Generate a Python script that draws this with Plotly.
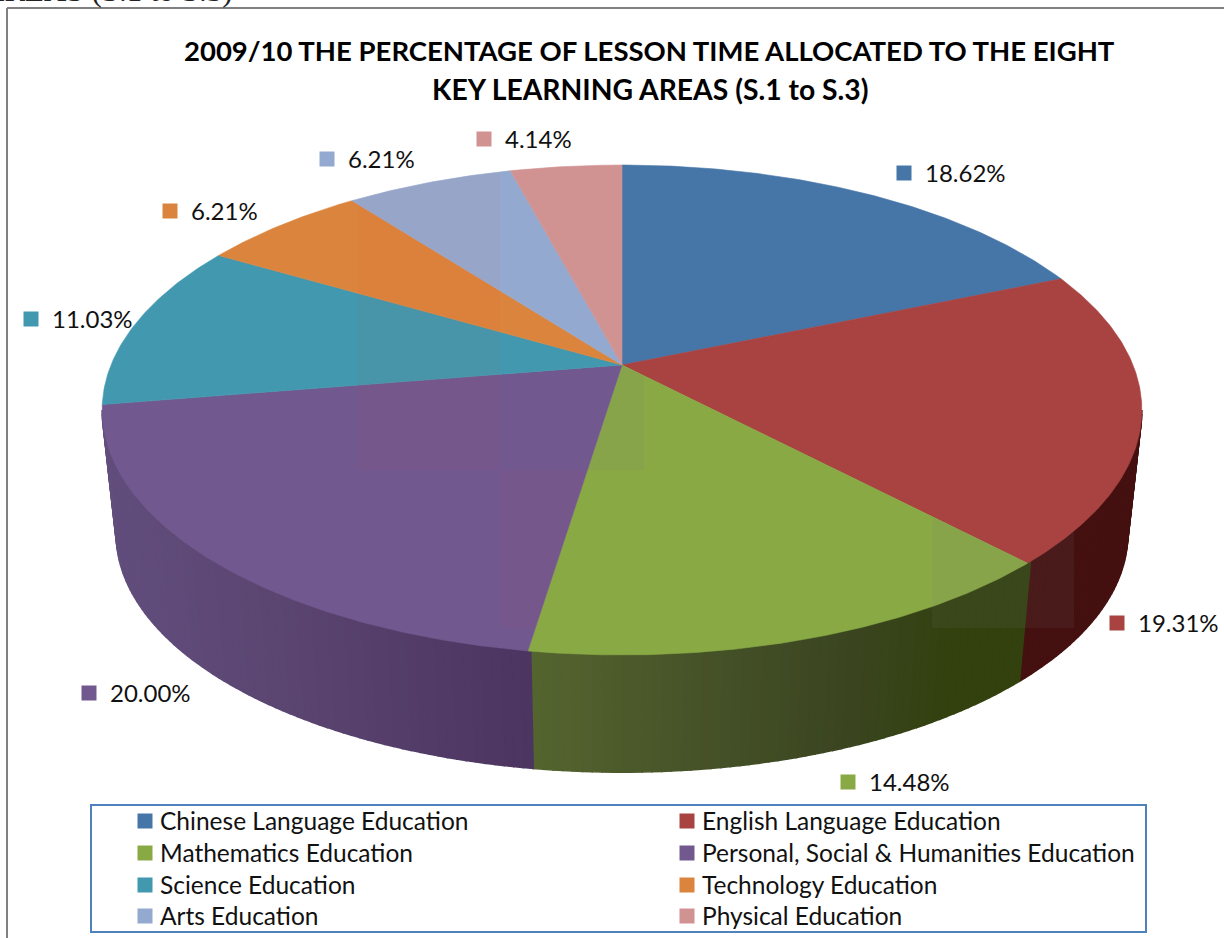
import math
import plotly.graph_objects as go

# ---------- data ----------
categories = ["Chinese Language Education", "English Language Education", "Mathematics Education",
              "Personal, Social & Humanities Education", "Science Education", "Technology Education",
              "Arts Education", "Physical Education"]
values = [18.62, 19.31, 14.48, 20.00, 11.03, 6.21, 6.21, 4.14]
title_lines = ["2009/10 THE PERCENTAGE OF LESSON TIME ALLOCATED TO THE EIGHT",
               "KEY LEARNING AREAS (S.1 to S.3)"]
colors = ["#4675A8", "#A84342", "#88A944", "#71588F", "#4198AF", "#DB843D", "#93A9CF", "#D19392"]
# wall shade at left/right of the visible wall (x in px, colour)
wall_stops = {
    1: [(1018, (69, 16, 16)), (1140, (69, 16, 16))],
    2: [(529, (85, 101, 47)), (700, (70, 82, 40)), (850, (58, 69, 32)), (940, (51, 65, 15)), (1018, (51, 65, 15))],
    3: [(110, (98, 78, 125)), (300, (90, 69, 112)), (529, (76, 53, 96))],
}
label_pos = [(904, 173), (1117, 623), (848, 782), (89, 693), (31, 319), (170, 211), (327, 159), (484, 139)]
legend_pos = [(145, 821), (687, 821), (145, 853), (687, 853), (145, 885), (687, 885), (145, 916), (687, 916)]
FONT = "Lato"

# ---------- projection of the pie disc ----------
CX, CY, A, B, K = 622, 365, 511, 236.7, 0.1837
SCALE, DROP = 0.973, 490


def proj(theta, lower=False):
    X, Y = math.sin(theta), math.cos(theta)
    w = 1 + K * Y
    sx, sy = CX + A * X / w, CY - B * Y / w
    if lower:
        return CX + SCALE * (sx - CX), DROP + SCALE * (sy - CY)
    return sx, sy


def arc(t0, t1, lower=False, step=math.radians(0.5)):
    n = max(2, int(abs(t1 - t0) / step) + 1)
    return [proj(t0 + (t1 - t0) * i / (n - 1), lower) for i in range(n)]


def clip(poly, x0, y0, x1, y1):
    edges = [(lambda p: p[0] >= x0, lambda a, b: (x0, a[1] + (b[1] - a[1]) * (x0 - a[0]) / (b[0] - a[0]))),
             (lambda p: p[0] <= x1, lambda a, b: (x1, a[1] + (b[1] - a[1]) * (x1 - a[0]) / (b[0] - a[0]))),
             (lambda p: p[1] >= y0, lambda a, b: (a[0] + (b[0] - a[0]) * (y0 - a[1]) / (b[1] - a[1]), y0)),
             (lambda p: p[1] <= y1, lambda a, b: (a[0] + (b[0] - a[0]) * (y1 - a[1]) / (b[1] - a[1]), y1))]
    for inside, cross in edges:
        out = []
        for i, p in enumerate(poly):
            q = poly[i - 1]
            if inside(p):
                if not inside(q):
                    out.append(cross(q, p))
                out.append(p)
            elif inside(q):
                out.append(cross(q, p))
        poly = out
        if not poly:
            break
    return poly


def shade(stops, x):
    if x <= stops[0][0]:
        return stops[0][1]
    for (x0, c0), (x1, c1) in zip(stops, stops[1:]):
        if x <= x1:
            f = (x - x0) / (x1 - x0)
            return tuple(c0[i] + (c1[i] - c0[i]) * f for i in range(3))
    return stops[-1][1]


def rgb(c):
    return "rgb(%d,%d,%d)" % tuple(round(v) for v in c)


fig = go.Figure()


def poly_trace(pts, fill, line=None, width=0.6):
    xs = [p[0] for p in pts] + [pts[0][0]]
    ys = [p[1] for p in pts] + [pts[0][1]]
    fig.add_trace(go.Scatter(x=xs, y=ys, mode="lines", fill="toself", fillcolor=fill,
                             line=dict(color=line or fill, width=width if line else 0),
                             hoverinfo="skip", showlegend=False))


# slice boundaries, clockwise from 12 o'clock
total = sum(values)
edges = [0.0]
for v in values:
    edges.append(edges[-1] + 2 * math.pi * v / total)

# side wall, one narrow strip at a time
t_start = math.acos(-K)
t_end = 2 * math.pi - t_start
n_strips = 170
for i in range(n_strips):
    a = t_start + (t_end - t_start) * i / n_strips
    b = t_start + (t_end - t_start) * (i + 1) / n_strips
    mid = (a + b) / 2
    idx = next(j for j in range(len(values)) if edges[j] <= mid < edges[j + 1])
    stops = wall_stops.get(idx, wall_stops[3])
    pts = [proj(a), proj(b), proj(b, True), proj(a, True)]
    col = rgb(shade(stops, proj(mid, True)[0]))
    poly_trace(pts, col, col, width=1.6)

# top faces
slices = []
for i, c in enumerate(colors):
    pts = [(CX, CY)] + arc(edges[i], edges[i + 1])
    slices.append(pts)
    poly_trace(pts, c, c)

# faint tonal blocks over the picture
WARM, GREY = "rgba(255,80,60,0.04)", "rgba(128,128,128,0.10)"
for i in range(len(slices)):
    tile = clip(slices[i], 358, 100, 500, 470)
    if tile:
        poly_trace(tile, WARM)
tile = clip(slices[3], 500, 470, 644, 628)
if tile:
    poly_trace(tile, WARM)
tile = clip(slices[2], 500, 100, 644, 470)
if tile:
    poly_trace(tile, GREY)
tile = clip(slices[2], 932, 470, 1074, 628)
if tile:
    poly_trace(tile, GREY)
wall_band = arc(t_start, t_end, True) + arc(t_end, t_start)
tile = clip(wall_band, 932, 470, 1074, 628)
if tile:
    poly_trace(tile, GREY)

# data-label and legend swatches
fig.add_trace(go.Scatter(x=[p[0] for p in label_pos + legend_pos], y=[p[1] for p in label_pos + legend_pos],
                         mode="markers", hoverinfo="skip", showlegend=False, cliponaxis=False,
                         marker=dict(symbol="square", size=15, color=colors + colors, line=dict(width=0))))

annotations = []
for (x, y), v in zip(label_pos, values):
    annotations.append(dict(x=x + 19, y=y - 1, text="%.2f%%" % v, xanchor="left", yanchor="middle", showarrow=False,
                            font=dict(family=FONT, size=24, color="#111111"), xref="x", yref="y"))
for (x, y), name in zip(legend_pos, categories):
    annotations.append(dict(x=x + 13, y=y - 1, text=name, xanchor="left", yanchor="middle", showarrow=False,
                            font=dict(family=FONT, size=24.5, color="#111111"), xref="x", yref="y"))
annotations.append(dict(x=235, y=10.5, text="AREAS (S.1 to S.3)", xanchor="right", yanchor="bottom", showarrow=False,
                        font=dict(family="Liberation Serif", size=31, color="#222222"), xref="x", yref="y"))
for line, y, size in zip(title_lines, [50, 89], [27.5, 28.3]):
    annotations.append(dict(x=649.5, y=y, text="<b>" + line + "</b>", xanchor="center", yanchor="middle",
                            showarrow=False, font=dict(family=FONT, size=size, color="#000000"),
                            xref="x", yref="y"))

fig.update_layout(
    width=1224, height=938, margin=dict(l=0, r=0, t=0, b=0),
    paper_bgcolor="white", plot_bgcolor="white", showlegend=False,
    xaxis=dict(range=[0, 1224], visible=False, fixedrange=True),
    yaxis=dict(range=[938, 0], visible=False, fixedrange=True),
    annotations=annotations,
    shapes=[
        dict(type="line", x0=7, x1=7, y0=8, y1=938, line=dict(color="#808080", width=2), layer="below"),
        dict(type="line", x0=7, x1=1224, y0=8, y1=8, line=dict(color="#808080", width=2), layer="below"),
        dict(type="rect", x0=91, x1=1146, y0=805, y1=932, line=dict(color="#4F81BD", width=2), layer="below"),
    ],
)

fig.write_html("out.html", post_script="document.body.style.margin='0';",
               config=dict(displayModeBar=False))
